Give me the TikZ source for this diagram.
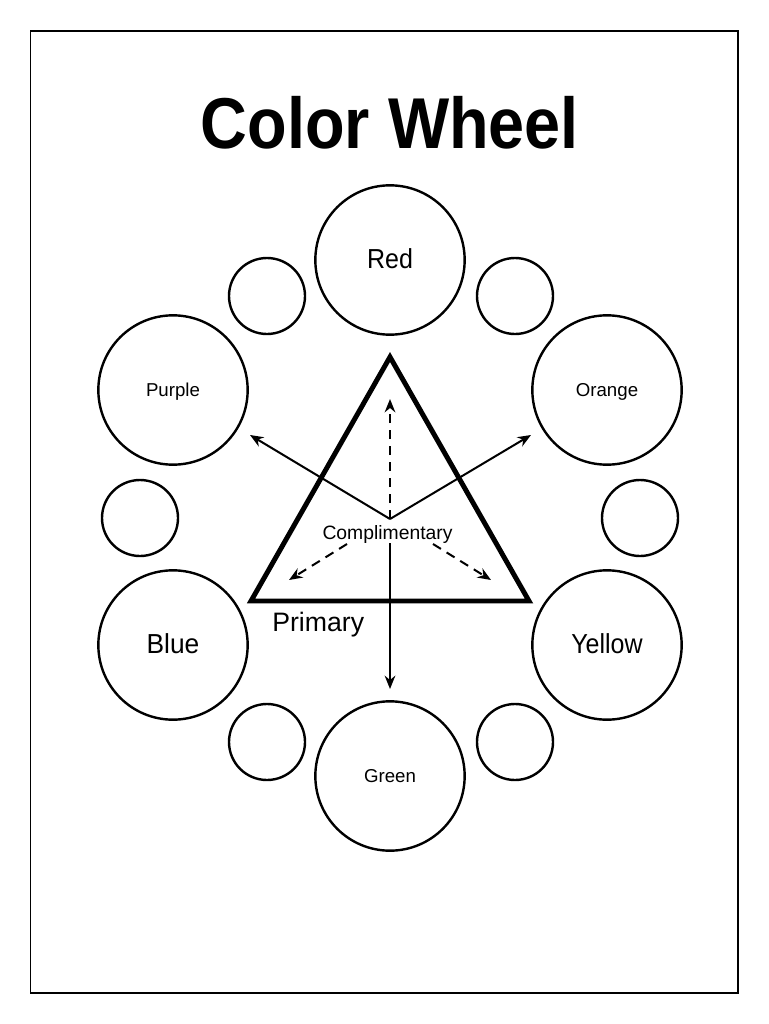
\documentclass[tikz,border=0pt]{standalone}
\usepackage{fontspec}
\setmainfont{Liberation Sans}
\usetikzlibrary{arrows.meta}
\begin{document}
\begin{tikzpicture}[x=0.75pt,y=-0.75pt,
 big/.style={circle,draw,line width=1.8pt,minimum size=112pt,inner sep=0pt,text depth=0pt},
 small/.style={circle,draw,line width=1.8pt,minimum size=57pt,inner sep=0pt},
 smallfont/.style={font=\fontsize{14}{14}\selectfont,text height=9.5pt},
 bigfont/.style={font=\fontsize{20.6}{20.6}\selectfont,text height=12pt},
 arr/.style={line width=1.5pt,-{Stealth[length=10pt,width=8pt]}},
 darr/.style={arr,dash pattern=on 7pt off 5pt},
 lbl/.style={inner sep=0pt}
]
\useasboundingbox (0,0) rectangle (768,1024);
% frame
\draw[line width=0.9pt] (30.5,31) rectangle (738,993);
% title
\node[lbl,anchor=base] (title) at (390,148) {\scalebox{0.9}[1]{\fontsize{54}{54}\selectfont\bfseries Color Wheel}};
% big circles
\node[big,bigfont] (red) at (390,260) {\scalebox{0.91}[1]{Red}};
\node[big,smallfont] (purple) at (173,390) {Purple};
\node[big,smallfont] (orange) at (607,390) {Orange};
\node[big,bigfont] (blue) at (173,645) {\scalebox{0.96}[1]{Blue}};
\node[big,bigfont] (yellow) at (607,645) {\scalebox{0.91}[1]{Yellow}};
\node[big,smallfont] (green) at (390,776) {Green};
% small circles
\node[small] (s1) at (267,296) {};
\node[small] (s2) at (515,296) {};
\node[small] (s3) at (140,518) {};
\node[small] (s4) at (640,518) {};
\node[small] (s5) at (267,742) {};
\node[small] (s6) at (515,742) {};
% triangle
\coordinate (apex) at (390,357);
\coordinate (bl) at (251,601);
\coordinate (br) at (529,601);
\draw[line width=3.7pt,line join=miter] (apex) -- (bl) -- (br) -- cycle;
% labels
\node[lbl,anchor=base west,font=\fontsize{20}{20}\selectfont] (primary) at (272,631) {Primary};
\node[lbl,anchor=base,font=\fontsize{14.5}{14.5}\selectfont] (comp) at (387.5,539) {Complimentary};
% arrows
\coordinate (ctr) at (390,519);
\coordinate (tp) at (250,435);
\coordinate (to) at (531,435);
\coordinate (tu) at (390,399);
\coordinate (sl) at (347,544);
\coordinate (tl) at (289,580);
\coordinate (sr) at (433,544);
\coordinate (tr) at (491,580);
\coordinate (sd) at (390,543);
\coordinate (td) at (390,689);
\draw[arr] (ctr) -- (tp);
\draw[arr] (ctr) -- (to);
\draw[darr] (ctr) -- (tu);
\draw[darr] (sl) -- (tl);
\draw[darr] (sr) -- (tr);
\draw[arr] (sd) -- (td);
\end{tikzpicture}
\end{document}
